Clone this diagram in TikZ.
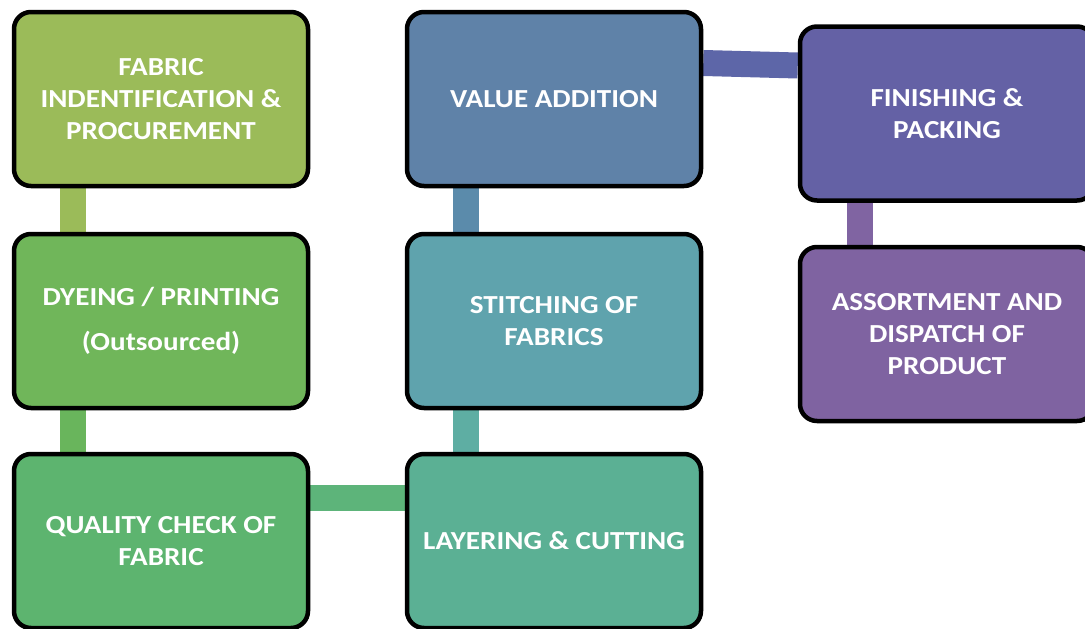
\documentclass[tikz,border=0pt]{standalone}
\usepackage{fontspec}
\setmainfont[FakeStretch=1.12]{Carlito}
\usetikzlibrary{backgrounds}
\definecolor{cA}{HTML}{9BBB59}
\definecolor{cB}{HTML}{70B65A}
\definecolor{cC}{HTML}{5DB46F}
\definecolor{cD}{HTML}{5BB094}
\definecolor{cE}{HTML}{5FA3AD}
\definecolor{cF}{HTML}{5F82A8}
\definecolor{cG}{HTML}{6461A5}
\definecolor{cH}{HTML}{7F63A1}
\definecolor{kAB}{HTML}{9BBB59}
\definecolor{kBC}{HTML}{69B55C}
\definecolor{kCD}{HTML}{5DB47A}
\definecolor{kDE}{HTML}{5EAEA3}
\definecolor{kEF}{HTML}{5B8BAB}
\definecolor{kFG}{HTML}{5D66A8}
\definecolor{kGH}{HTML}{8064A2}
\begin{document}
\begin{tikzpicture}[x=1pt,y=-1pt,
  stepbox/.style={draw=black,line width=4.5pt,rounded corners=17pt,
    minimum width=294pt,minimum height=174pt,inner sep=0pt,
    align=center,text=white,
    font=\fontsize{26}{32}\selectfont\bfseries},
  conn/.style={line width=26pt}]
\useasboundingbox (0,0) rectangle (1085,629);
\clip (0,0) rectangle (1085,629);
% nodes
\node[stepbox,fill=cA] (A) at (161,99) {FABRIC\\INDENTIFICATION \&\\PROCUREMENT};
\node[stepbox,fill=cB] (B) at (161,321) {DYEING / PRINTING\\[13pt](Outsourced)};
\node[stepbox,fill=cC] (C) at (161,541) {QUALITY CHECK OF\\FABRIC};
\node[stepbox,fill=cD] (D) at (554,541) {LAYERING \& CUTTING};
\node[stepbox,fill=cE] (E) at (554,321) {STITCHING OF\\FABRICS};
\node[stepbox,fill=cF] (F) at (554,99) {VALUE ADDITION};
\node[stepbox,fill=cG] (G) at (947,113.5) {FINISHING \&\\PACKING};
\node[stepbox,fill=cH] (H) at (947,334) {ASSORTMENT AND\\DISPATCH OF\\PRODUCT};
% connectors behind
\begin{scope}[on background layer]
\draw[conn,kAB] ([xshift=-88pt]A.south) -- ([xshift=-88pt]B.north);
\draw[conn,kBC] ([xshift=-88pt]B.south) -- ([xshift=-88pt]C.north);
\draw[conn,kCD] ([yshift=43pt]C.east) -- ([yshift=43pt]D.west);
\draw[conn,kDE] ([xshift=-88pt]D.north) -- ([xshift=-88pt]E.south);
\draw[conn,kEF] ([xshift=-88pt]E.north) -- ([xshift=-88pt]F.south);
\draw[conn,kFG] ([yshift=36pt]F.east) -- ([yshift=48pt]G.west);
\draw[conn,kGH] ([xshift=-87pt]G.south) -- ([xshift=-87pt]H.north);
\end{scope}
\end{tikzpicture}
\end{document}
